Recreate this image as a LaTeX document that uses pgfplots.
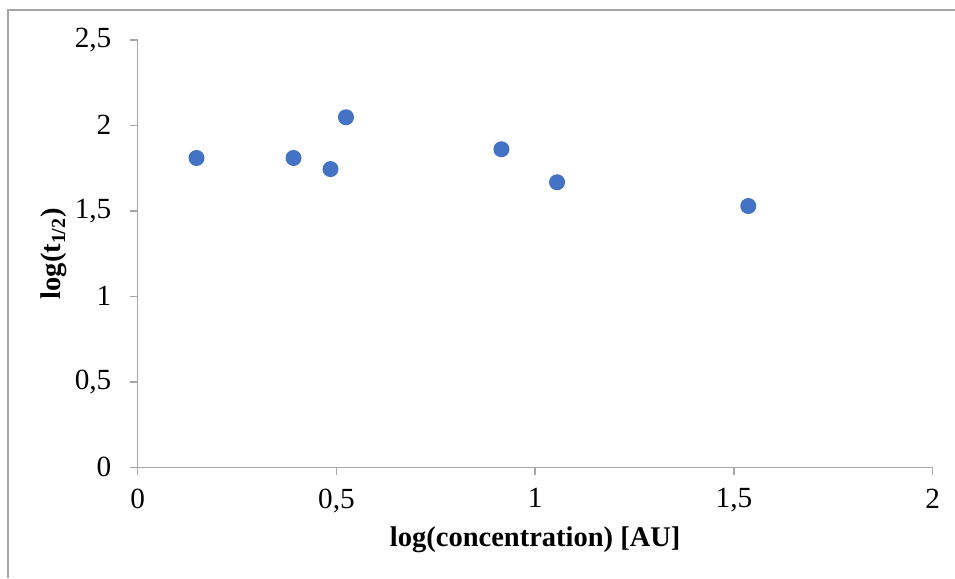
\documentclass[border=0pt]{standalone}
\usepackage{fontspec}
\setmainfont{Liberation Serif}
\usepackage{pgfplots}
\pgfplotsset{compat=1.18}
\definecolor{ptblue}{HTML}{4472C4}
\definecolor{axgray}{RGB}{166,166,166}

\begin{document}
\begin{tikzpicture}
% page box and the cropped frame of the original chart (1px = 0.4pt)
\useasboundingbox (-55.08pt,-44.28pt) rectangle (326.92pt,186.92pt);
\draw[axgray, line width=0.8pt] (-51.88pt,-44.28pt) -- (-51.88pt,182.92pt) -- (326.92pt,182.92pt);
\begin{axis}[
  at={(0pt,0pt)}, anchor=origin,
  scale only axis,
  width=318pt, height=171pt,
  xmin=0, xmax=2, ymin=0, ymax=2.5,
  xtick={0,0.5,...,2}, ytick={0,0.5,...,2.5},
  axis lines=left,
  axis line style={axgray, line width=0.6pt, -},
  tick style={axgray, line width=0.6pt},
  tick align=outside,
  major tick length=3pt,
  /pgf/number format/assume math mode=true,
  /pgf/number format/use comma,
  tick label style={font=\fontsize{11.7}{14}\selectfont, black},
  xticklabel style={yshift=-2pt},
  yticklabel style={xshift=-4pt},
  xlabel={\textbf{log(concentration) [AU]}},
  ylabel={\textbf{log(t\textsubscript{1/2})}},
  label style={font=\fontsize{11.4}{14}\selectfont},
  xlabel style={at={(axis description cs:0.5,0)}, anchor=center, yshift=-29pt},
  ylabel style={at={(axis description cs:-0.105,0.5)}, anchor=center},
  clip=false,
]
  \addplot[only marks, mark=*, mark size=3pt, mark options={fill=ptblue, draw=ptblue}]
    coordinates {(0.148,1.809)(0.392,1.809)(0.485,1.744)(0.524,2.047)
                 (0.915,1.860)(1.055,1.667)(1.536,1.528)};
\end{axis}
\end{tikzpicture}
\end{document}
